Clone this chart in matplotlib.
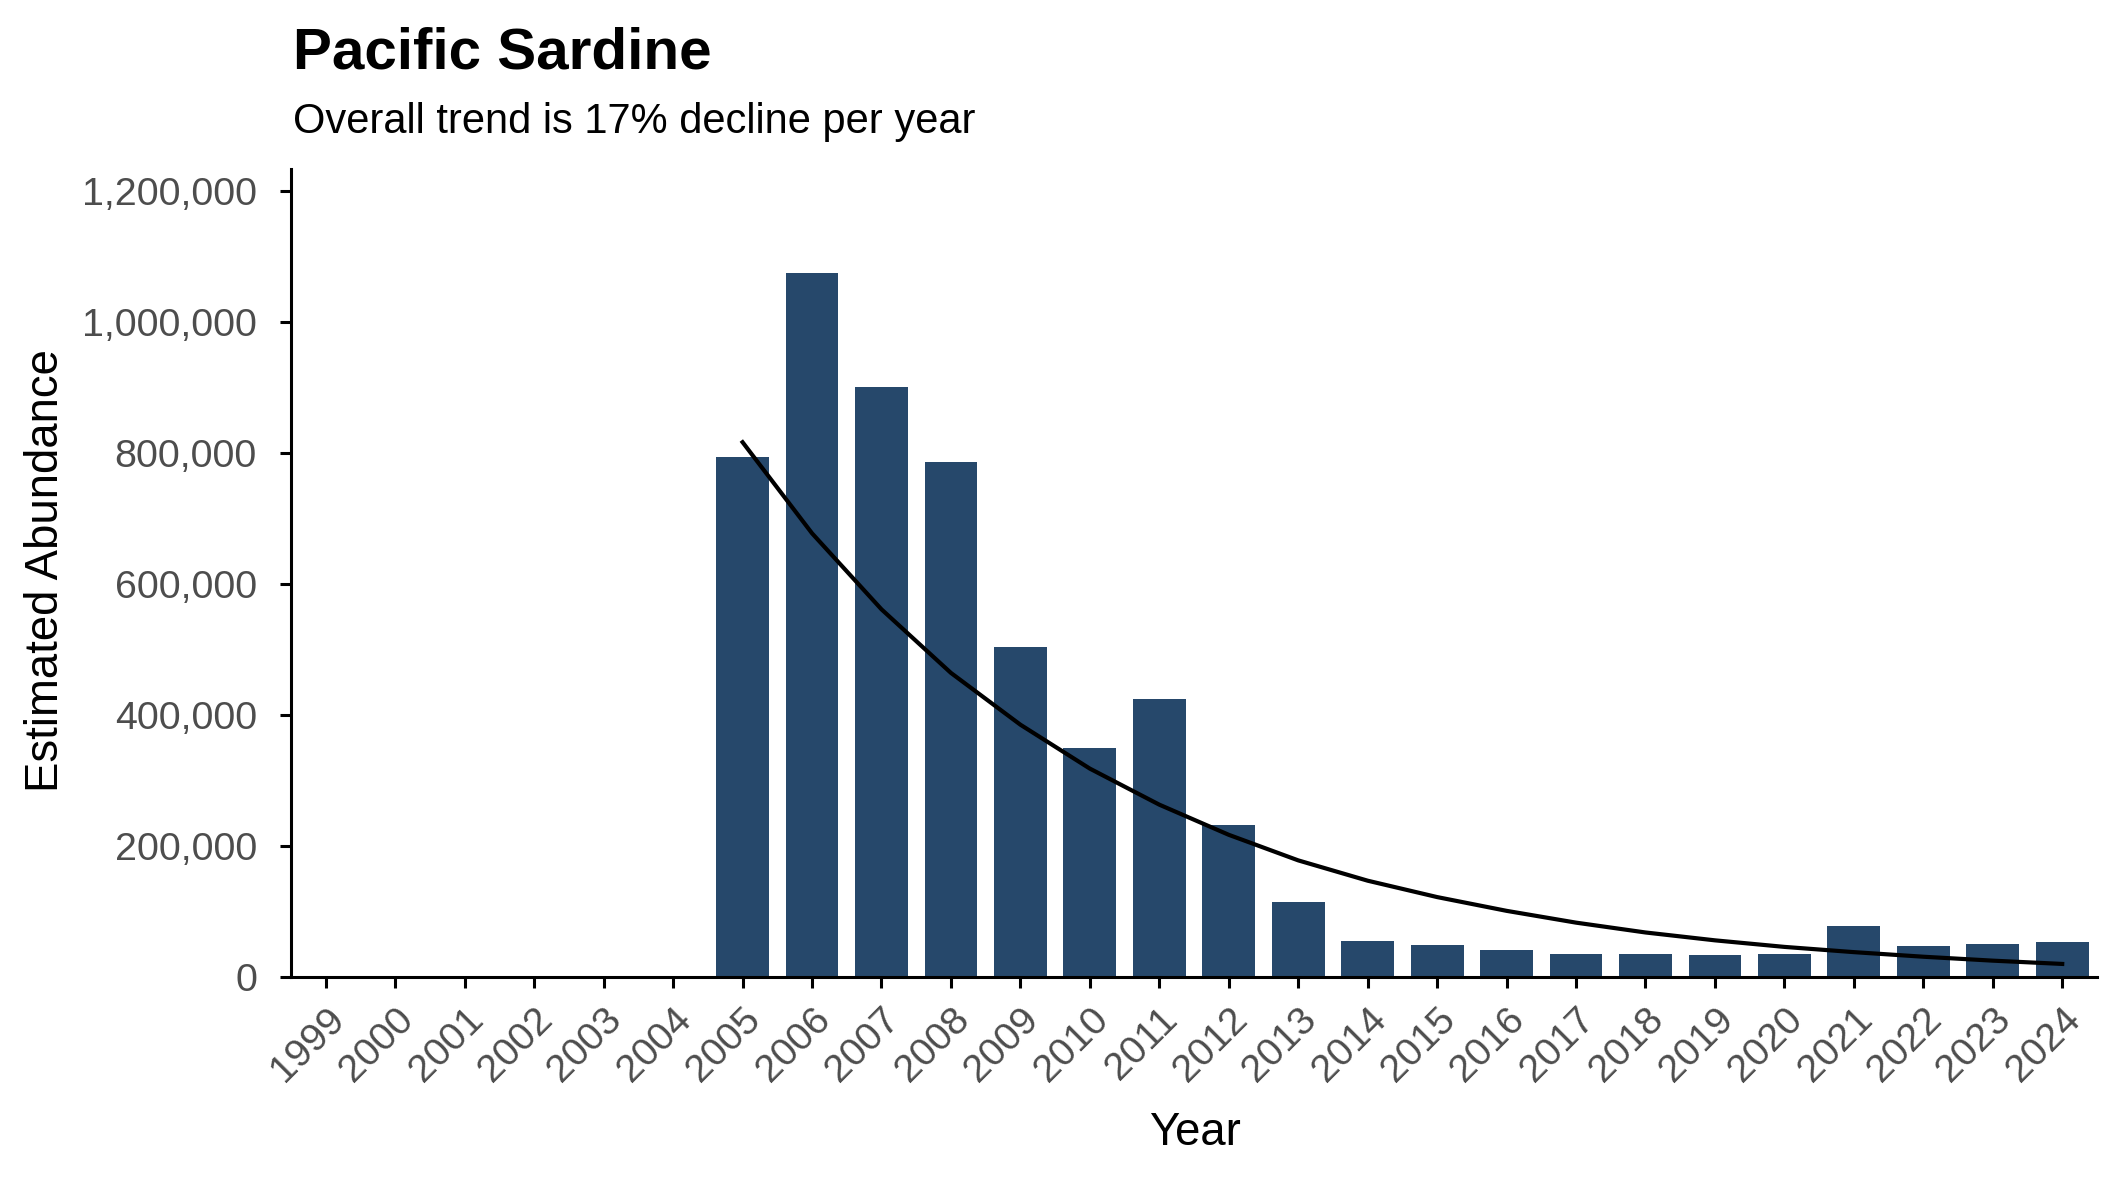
import matplotlib
matplotlib.use("Agg")
import matplotlib.pyplot as plt
from matplotlib.ticker import FuncFormatter
import numpy as np

years = list(range(1999, 2025))
# no survey estimate before 2005
abundance = [np.nan] * 6 + [
    794000, 1074000, 900000, 786000, 503000, 350000, 424000, 232000,
    114000, 55000, 49000, 41000, 35000, 35000, 33500, 35000,
    78000, 47000, 51000, 53000,
]
trend_years = list(range(2005, 2025))
trend = [
    816000, 677000, 561000, 464000, 385000, 318000, 263000, 217000,
    178000, 147000, 122000, 101000, 83000, 68000, 56000, 46000,
    38000, 31000, 25000, 20000,
]

BAR_COLOR = "#26486b"
TICK_COLOR = "#4d4d4d"

plt.rcParams["font.family"] = ["Liberation Sans", "DejaVu Sans"]

fig = plt.figure(figsize=(10.625, 5.905), dpi=200)
ax = fig.add_axes([0.137, 0.1727, 0.8498, 0.6843])

ax.bar(years, abundance, width=0.76, color=BAR_COLOR, linewidth=0)
ax.plot(trend_years, trend, color="black", linewidth=1.5)

ax.set_xlim(1998.5, 2024.5)
ax.set_ylim(0, 1233000)
ax.set_xticks(years)
ax.set_xticklabels([str(y) for y in years], rotation=45, ha="right", va="top",
                   rotation_mode="anchor")
ax.set_yticks([0, 200000, 400000, 600000, 800000, 1000000, 1200000])
ax.yaxis.set_major_formatter(FuncFormatter(lambda v, p: f"{int(v):,}"))

for side in ["top", "right"]:
    ax.spines[side].set_visible(False)
for side in ["left", "bottom"]:
    ax.spines[side].set_linewidth(1.1)
ax.tick_params(axis="both", colors=TICK_COLOR, labelsize=14.2, length=3.8,
               width=1.1)
ax.tick_params(axis="both", color="black")
ax.tick_params(axis="y", pad=8.5)
ax.tick_params(axis="x", pad=5)

fig.text(0.0215, 0.5165, "Estimated Abundance", rotation=90,
         ha="center", va="center", fontsize=16.4)
fig.text(0.5624, 0.0305, "Year", ha="center", va="baseline", fontsize=16.4)

fig.text(0.1379, 0.942, "Pacific Sardine", fontsize=21, fontweight="bold",
         va="baseline", ha="left")
fig.text(0.1379, 0.887, "Overall trend is 17% decline per year", fontsize=15,
         va="baseline", ha="left")

fig.savefig("out.png", dpi=200)
